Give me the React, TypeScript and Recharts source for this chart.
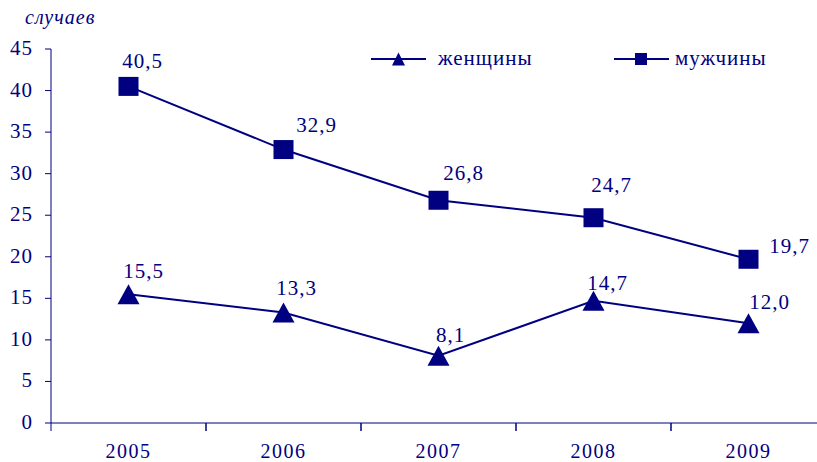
import React from 'react';
import { LineChart, Line, XAxis, YAxis, LabelList } from 'recharts';

const years = ['2005', '2006', '2007', '2008', '2009'];
const women = [15.5, 13.3, 8.1, 14.7, 12.0];
const men = [40.5, 32.9, 26.8, 24.7, 19.7];
const yTicks = [0, 5, 10, 15, 20, 25, 30, 35, 40, 45];
const womenName = 'женщины';
const menName = 'мужчины';
const unitLabel = 'случаев';

// label offsets (dx to text centre, dy to baseline) relative to point
const menLabelOffsets = [[14, -18], [33, -18], [25, -20], [18, -26], [41, -6]];
const womenLabelOffsets = [[15, -16], [13, -17], [12, -14], [14, -11], [21, -14]];

const data = years.map((y, i) => ({ year: y, women: women[i], men: men[i] }));

const NAVY = '#000080';
const FONT = '"Liberation Serif", "Times New Roman", serif';
const BAND = 155;

const fmt = (v: number) => v.toFixed(1).replace('.', ',');

const Square = (props: any) => {
  const { cx, cy } = props;
  if (cx == null || cy == null) return null;
  return <rect x={cx - 10} y={cy - 9.5} width={20} height={19} fill={NAVY} />;
};

const Triangle = (props: any) => {
  const { cx, cy } = props;
  if (cx == null || cy == null) return null;
  return <polygon points={`${cx},${cy - 10} ${cx + 11},${cy + 10} ${cx - 11},${cy + 10}`} fill={NAVY} />;
};

const makeLabel = (offsets: number[][]) => (props: any) => {
  const { x, y, value, index } = props;
  const [dx, dy] = offsets[index] || [0, -15];
  return (
    <text x={x + dx} y={y + dy} textAnchor="middle" fill={NAVY} style={{ fontFamily: FONT }} fontSize={21} letterSpacing={1}>
      {fmt(value)}
    </text>
  );
};

const XTick = (props: any) => {
  const { x, y, payload } = props;
  return (
    <g>
      <line x1={x - BAND / 2} y1={y} x2={x - BAND / 2} y2={y + 8} stroke={NAVY} strokeWidth={1} />
      <line x1={x + BAND / 2} y1={y} x2={x + BAND / 2} y2={y + 8} stroke={NAVY} strokeWidth={1} />
      <text x={x} y={y + 35} textAnchor="middle" fill={NAVY} style={{ fontFamily: FONT }} fontSize={20} letterSpacing={1.5}>
        {payload.value}
      </text>
    </g>
  );
};

const YTick = (props: any) => {
  const { x, y, payload } = props;
  return (
    <text x={x} y={y + 6} textAnchor="end" fill={NAVY} style={{ fontFamily: FONT }} fontSize={21} letterSpacing={1}>
      {payload.value}
    </text>
  );
};

const LegendOverlay = () => (
  <svg width={420} height={30} style={{ position: 'absolute', left: 360, top: 44, display: 'block' }}>
    <line x1={11} y1={15} x2={66} y2={15} stroke={NAVY} strokeWidth={2} />
    <polygon points={`38.5,8.5 45,21.5 32,21.5`} fill={NAVY} />
    <text x={78} y={21} fill={NAVY} style={{ fontFamily: FONT }} fontSize={21} letterSpacing={1}>{womenName}</text>
    <line x1={254} y1={15} x2={309} y2={15} stroke={NAVY} strokeWidth={2} />
    <rect x={275} y={9} width={12} height={12} fill={NAVY} />
    <text x={315} y={21} fill={NAVY} style={{ fontFamily: FONT }} fontSize={21} letterSpacing={1}>{menName}</text>
  </svg>
);

export default function App() {
  return (
    <div style={{ position: 'absolute', left: 0, top: 0, width: 817, height: 462, overflow: 'hidden', background: '#fff' }}>
      <LineChart width={840} height={462} data={data} margin={{ top: 49, right: 14, left: 0, bottom: 0 }}>
        <XAxis
          dataKey="year"
          height={39}
          padding={{ left: BAND / 2, right: BAND / 2 }}
          axisLine={{ stroke: NAVY, strokeWidth: 1 }}
          tickLine={false}
          tickSize={0}
          tickMargin={0}
          tick={<XTick />}
          interval={0}
        />
        <YAxis
          width={51}
          domain={[0, 45]}
          ticks={yTicks}
          interval={0}
          axisLine={{ stroke: NAVY, strokeWidth: 1 }}
          tickLine={{ stroke: NAVY, strokeWidth: 1 }}
          tickSize={6}
          tickMargin={12}
          tick={<YTick />}
        />
        <Line
          dataKey="women"
          name={womenName}
          stroke={NAVY}
          strokeWidth={2}
          dot={<Triangle />}
          activeDot={false}
          isAnimationActive={false}
        >
          <LabelList dataKey="women" content={makeLabel(womenLabelOffsets)} />
        </Line>
        <Line
          dataKey="men"
          name={menName}
          stroke={NAVY}
          strokeWidth={2}
          dot={<Square />}
          activeDot={false}
          isAnimationActive={false}
        >
          <LabelList dataKey="men" content={makeLabel(menLabelOffsets)} />
        </Line>
      </LineChart>
      <LegendOverlay />
      <div style={{ position: 'absolute', left: 25, top: 5, fontFamily: FONT, fontStyle: 'italic', fontSize: 20, color: NAVY, letterSpacing: 1, lineHeight: '24px' }}>
        {unitLabel}
      </div>
    </div>
  );
}
